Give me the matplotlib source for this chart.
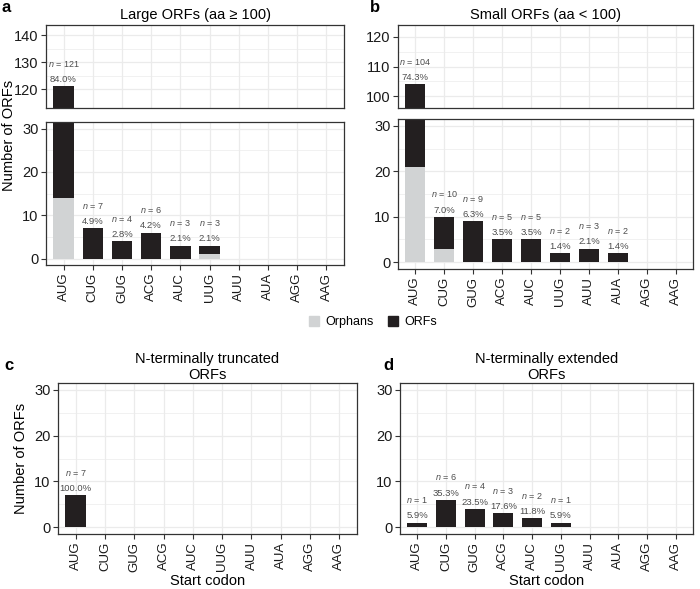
import numpy as np
import matplotlib
matplotlib.use("Agg")
import matplotlib.pyplot as plt
from matplotlib.patches import Patch

plt.rcParams['font.family'] = ['Liberation Sans', 'DejaVu Sans']
plt.rcParams['mathtext.fontset'] = 'custom'
plt.rcParams['mathtext.it'] = 'Liberation Sans:italic'
plt.rcParams['mathtext.rm'] = 'Liberation Sans'

codons = ['AUG', 'CUG', 'GUG', 'ACG', 'AUC', 'UUG', 'AUU', 'AUA', 'AGG', 'AAG']

# panel a: large ORFs
large_total = [121, 7, 4, 6, 3, 3, 0, 0, 0, 0]
large_orphans = [14, 0, 0, 0, 0, 1, 0, 0, 0, 0]
large_pct = ['84.0%', '4.9%', '2.8%', '4.2%', '2.1%', '2.1%', '', '', '', '']

# panel b: small ORFs
small_total = [104, 10, 9, 5, 5, 2, 3, 2, 0, 0]
small_orphans = [21, 3, 0, 0, 0, 0, 0, 0, 0, 0]
small_pct = ['74.3%', '7.0%', '6.3%', '3.5%', '3.5%', '1.4%', '2.1%', '1.4%', '', '']

# panel c: N-terminally truncated
trunc_total = [7, 0, 0, 0, 0, 0, 0, 0, 0, 0]
trunc_orphans = [0] * 10
trunc_pct = ['100.0%', '', '', '', '', '', '', '', '', '']

# panel d: N-terminally extended
ext_total = [1, 6, 4, 3, 2, 1, 0, 0, 0, 0]
ext_orphans = [0] * 10
ext_pct = ['5.9%', '35.3%', '23.5%', '17.6%', '11.8%', '5.9%', '', '', '', '']

BLACK = '#231f20'
GREY = '#d1d3d4'
GRID = '#ebebeb'
EDGE = '#333333'

W, H = 700, 589
fig = plt.figure(figsize=(7, 5.89), dpi=100)


def px_axes(x0, y0, x1, y1):
    return fig.add_axes([x0 / W, 1 - y1 / H, (x1 - x0) / W, (y1 - y0) / H])


def panel(ax, total, orphans, pct, ylim, yticks, show_x=True):
    x = np.arange(len(codons))
    total = np.array(total)
    orphans = np.array(orphans)
    ax.set_axisbelow(True)
    ax.bar(x, orphans, width=0.7, color=GREY, linewidth=0, zorder=2)
    ax.bar(x, total - orphans, bottom=orphans, width=0.7, color=BLACK,
           linewidth=0, zorder=2)
    ax.set_xlim(-0.6, len(codons) - 0.4)
    ax.set_ylim(*ylim)
    ax.set_yticks(yticks)
    minor = [t + (yticks[1] - yticks[0]) / 2 for t in yticks[:-1]]
    ax.set_yticks(minor, minor=True)
    ax.set_xticks(x)
    ax.grid(True, which='major', color=GRID, lw=0.9)
    ax.grid(True, which='minor', axis='y', color=GRID, lw=0.5)
    ax.tick_params(which='minor', left=False)
    ax.tick_params(axis='y', labelsize=10.5, colors=EDGE, labelcolor='#1a1a1a',
                   length=3.5, width=0.8, pad=2)
    for s in ax.spines.values():
        s.set_color(EDGE)
        s.set_linewidth(0.9)
    if show_x:
        ax.set_xticklabels(codons, rotation=90, fontsize=9.5, color='#1a1a1a')
        ax.tick_params(axis='x', length=3.5, width=0.8, colors=EDGE,
                       labelcolor='#1a1a1a', pad=2)
    else:
        ax.tick_params(axis='x', bottom=False, labelbottom=False)
    for xi, t, p in zip(x, total, pct):
        if t == 0 or not (ylim[0] < t < ylim[1]):
            continue
        ax.annotate(p, (xi, t), xytext=(0, 1.5), textcoords='offset points',
                    ha='center', va='bottom', fontsize=6.8, color='#4d4d4d')
        ax.annotate(r'$n$ = %d' % t, (xi, t), xytext=(0, 12.5),
                    textcoords='offset points', ha='center', va='bottom',
                    fontsize=6.5, color='#4d4d4d')


# panel a (broken axis)
a_top = px_axes(46, 25, 344, 108)
a_bot = px_axes(46, 122, 344, 265)
panel(a_top, large_total, large_orphans, large_pct, (113, 143.7), [120, 130, 140], show_x=False)
panel(a_bot, large_total, large_orphans, large_pct, (-1.5, 31.5), [0, 10, 20, 30])
a_top.set_title('Large ORFs (aa \u2265 100)', fontsize=10.5, pad=4)

# panel b (broken axis)
b_top = px_axes(398, 25, 693, 108)
b_bot = px_axes(398, 119, 693, 269)
panel(b_top, small_total, small_orphans, small_pct, (96, 124), [100, 110, 120], show_x=False)
panel(b_bot, small_total, small_orphans, small_pct, (-1.5, 31.5), [0, 10, 20, 30])
b_top.set_title('Small ORFs (aa < 100)', fontsize=10.5, pad=4)

# panel c
c_ax = px_axes(58, 383, 357, 534)
panel(c_ax, trunc_total, trunc_orphans, trunc_pct, (-1.5, 31.5), [0, 10, 20, 30])
c_ax.set_title('N-terminally truncated\nORFs', fontsize=10.5, pad=3, linespacing=1.15)
c_ax.set_ylabel('Number of ORFs', fontsize=10.5, labelpad=4)
c_ax.set_xlabel('Start codon', fontsize=10.5, labelpad=1.5)

# panel d
d_ax = px_axes(400, 383, 693, 534)
panel(d_ax, ext_total, ext_orphans, ext_pct, (-1.5, 31.5), [0, 10, 20, 30])
d_ax.set_title('N-terminally extended\nORFs', fontsize=10.5, pad=3, linespacing=1.15)
d_ax.set_xlabel('Start codon', fontsize=10.5, labelpad=1.5)

fig.text(9 / W, 1 - 135 / H, 'Number of ORFs', rotation=90, ha='center',
         va='center', fontsize=10.5)

for lab, (px, py) in zip('abcd', [(2, 8), (370, 8), (4, 366), (383, 366)]):
    fig.text(px / W, 1 - py / H, lab, fontsize=12, fontweight='bold',
             ha='left', va='center')

handles = [Patch(color=GREY), Patch(color=BLACK)]
fig.legend(handles, ['Orphans', 'ORFs'], loc='center',
           bbox_to_anchor=(373 / W, 1 - 322 / H), ncol=2, frameon=False,
           fontsize=9, handlelength=0.8, handleheight=0.8, handletextpad=0.5,
           columnspacing=1.2)

fig.savefig('out.png', dpi=100)
